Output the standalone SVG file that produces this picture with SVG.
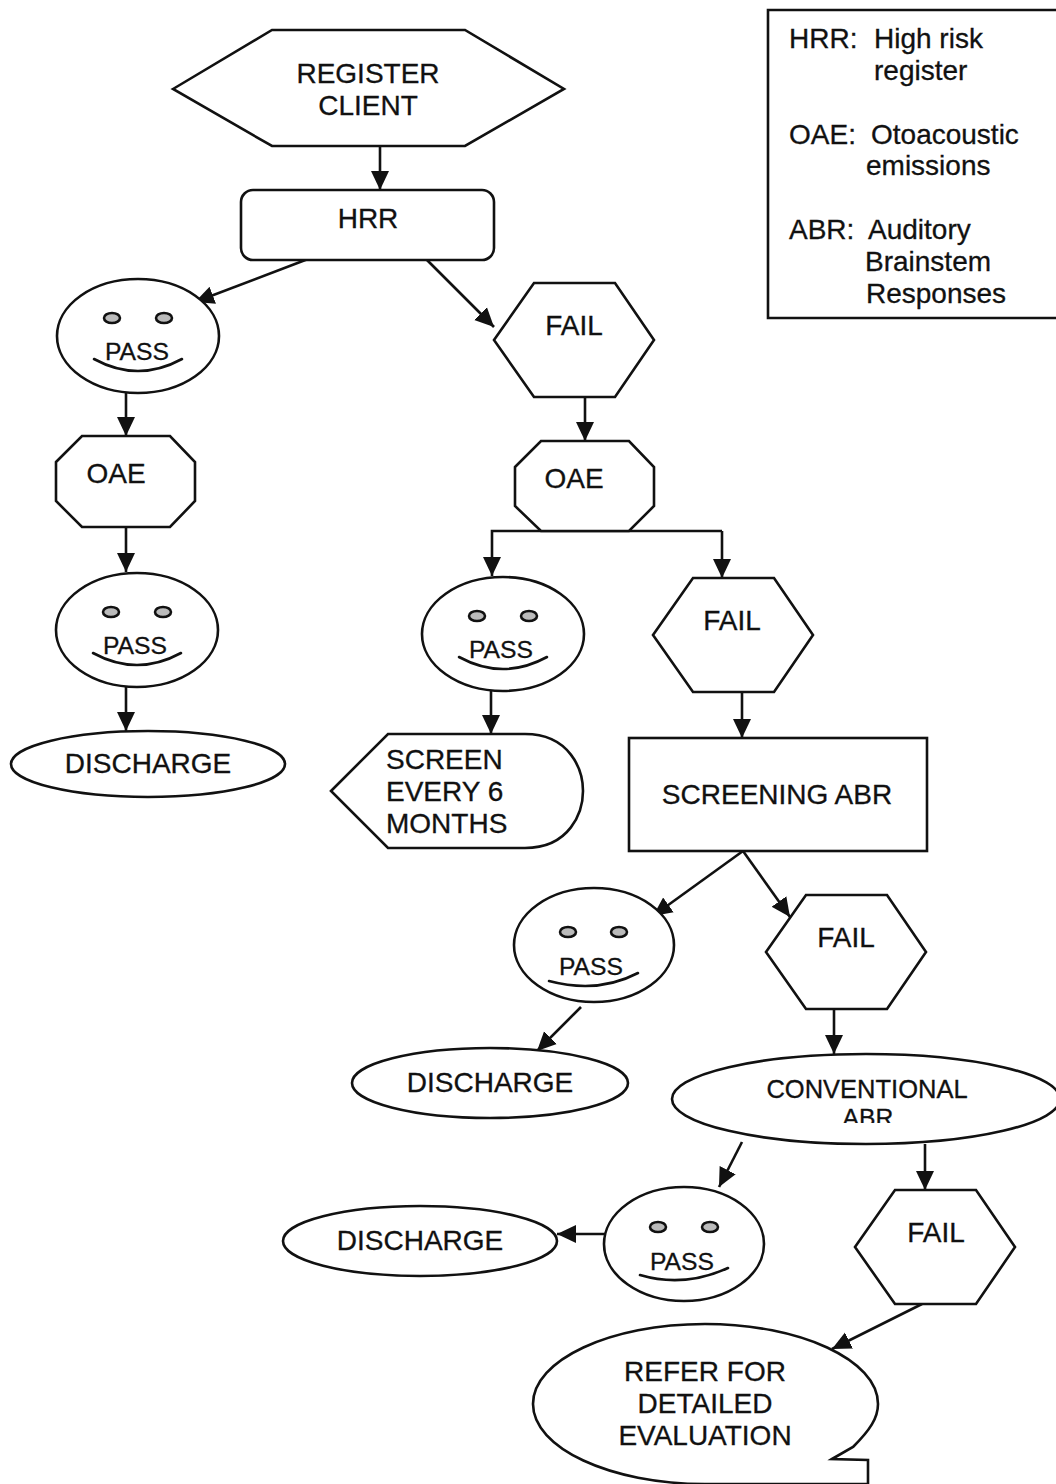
<svg xmlns="http://www.w3.org/2000/svg" width="1056" height="1484" viewBox="0 0 1056 1484">
<style>
.s{fill:#fff;stroke:#111;stroke-width:2.6}
.n{fill:none;stroke:#111;stroke-width:2.6;stroke-linecap:round}
.e{fill:#bbb;stroke:#111;stroke-width:2.6}
.c{fill:none;stroke:#111;stroke-width:2.6}
text{font-family:"Liberation Sans",Arial,sans-serif;font-size:28px;fill:#111;stroke:#111;stroke-width:.3}
.m{text-anchor:middle}
.p{font-size:24.7px;text-anchor:middle}
</style>
<defs>
<marker id="a" markerUnits="userSpaceOnUse" markerWidth="20" markerHeight="20" refX="19" refY="10" orient="auto"><path d="M0 1L19 10L0 19Z" fill="#111"/></marker>
<clipPath id="abr"><rect x="800" y="1100" width="140" height="23"/></clipPath>
<g id="face"><ellipse class="s" cx="0" cy="0" rx="81" ry="57"/><ellipse class="e" cx="-26" cy="-18" rx="8" ry="5"/><ellipse class="e" cx="26" cy="-18" rx="8" ry="5"/><path class="n" d="M-44 23Q0 47 44 23"/></g>
<g id="hex"><path class="s" d="M0 57L40 0H121L160 57L121 114H40Z"/></g>
</defs>
<g id="connectors">
<path class="c" marker-end="url(#a)" d="M380 146V190"/>
<path class="c" marker-end="url(#a)" d="M308 259L195 302"/>
<path class="c" marker-end="url(#a)" d="M427 260L494 327"/>
<path class="c" marker-end="url(#a)" d="M126 392V436"/>
<path class="c" marker-end="url(#a)" d="M126 527V572"/>
<path class="c" marker-end="url(#a)" d="M126 687V731"/>
<path class="c" marker-end="url(#a)" d="M585 397V441"/>
<path class="c" marker-end="url(#a)" d="M722 531H492V576"/>
<path class="c" marker-end="url(#a)" d="M722 531V578"/>
<path class="c" marker-end="url(#a)" d="M491 691V734"/>
<path class="c" marker-end="url(#a)" d="M742 692V738"/>
<path class="c" marker-end="url(#a)" d="M743 851L653 916"/>
<path class="c" marker-end="url(#a)" d="M743 851L790 917"/>
<path class="c" marker-end="url(#a)" d="M581 1007L537 1051"/>
<path class="c" marker-end="url(#a)" d="M834 1009V1054"/>
<path class="c" marker-end="url(#a)" d="M742 1142L719 1187"/>
<path class="c" marker-end="url(#a)" d="M925 1144V1190"/>
<path class="c" marker-end="url(#a)" d="M605 1234H557"/>
<path class="c" marker-end="url(#a)" d="M922 1304L832 1349"/>
</g>
<g id="register"><path class="s" d="M173 89L272 30H465L564 89L465 146H272Z"/><text class="m" x="368" y="83">REGISTER</text><text class="m" x="368" y="115">CLIENT</text></g>
<g id="hrr"><rect class="s" x="241" y="190" width="253" height="70" rx="12"/><text class="m" x="368" y="228">HRR</text></g>
<g id="legend"><path class="s" d="M1058 10H768V318H1058"/>
<text x="789" y="48">HRR:</text><text x="874" y="48">High risk</text><text x="874" y="80">register</text>
<text x="789" y="144">OAE:</text><text x="871" y="144">Otoacoustic</text><text x="866" y="175">emissions</text>
<text x="789" y="239">ABR:</text><text x="868" y="239">Auditory</text><text x="865" y="271">Brainstem</text><text x="866" y="303">Responses</text></g>
<g id="pass1"><use href="#face" x="138" y="336"/><text class="p" x="137" y="360">PASS</text></g>
<g id="fail1"><use href="#hex" x="494" y="283"/><text class="m" x="574" y="335">FAIL</text></g>
<g id="oae1"><path class="s" d="M56 462L82 436H170L195 462V501L170 527H82L56 501Z"/><text class="m" x="116" y="483">OAE</text></g>
<g id="oae2"><path class="s" d="M515 467L541 441H629L654 467V506L629 531H541L515 506Z"/><text class="m" x="574" y="488">OAE</text></g>
<g id="pass2"><use href="#face" x="137" y="630"/><text class="p" x="135" y="654">PASS</text></g>
<g id="discharge1"><ellipse class="s" cx="148" cy="764" rx="137" ry="33"/><text class="m" x="148" y="773">DISCHARGE</text></g>
<g id="pass3"><use href="#face" x="503" y="634"/><text class="p" x="501" y="658">PASS</text></g>
<g id="fail2"><use href="#hex" x="653" y="578"/><text class="m" x="732" y="630">FAIL</text></g>
<g id="screen"><path class="s" d="M331 791L388 734H525C570 734 583 770 583 791C583 812 570 848 525 848H388Z"/><text x="386" y="769">SCREEN</text><text x="386" y="801">EVERY 6</text><text x="386" y="833">MONTHS</text></g>
<g id="screening"><rect class="s" x="629" y="738" width="298" height="113"/><text class="m" x="777" y="804">SCREENING ABR</text></g>
<g id="pass4"><ellipse class="s" cx="594" cy="945" rx="80" ry="57"/><ellipse class="e" cx="568" cy="932" rx="8" ry="5"/><ellipse class="e" cx="619" cy="932" rx="8" ry="5"/><path class="n" d="M549 981Q598 994 638 973"/><text class="p" x="591" y="975">PASS</text></g>
<g id="fail3"><use href="#hex" x="766" y="895"/><text class="m" x="846" y="947">FAIL</text></g>
<g id="discharge2"><ellipse class="s" cx="490" cy="1083" rx="138" ry="35"/><text class="m" x="490" y="1092">DISCHARGE</text></g>
<g id="conventional"><ellipse class="s" cx="866" cy="1099" rx="194" ry="45"/><text class="p" style="font-size:25.5px" x="867" y="1098">CONVENTIONAL</text><text class="p" x="868" y="1126" clip-path="url(#abr)">ABR</text></g>
<g id="pass5"><ellipse class="s" cx="684" cy="1244" rx="80" ry="57"/><ellipse class="e" cx="658" cy="1227" rx="8" ry="5"/><ellipse class="e" cx="710" cy="1227" rx="8" ry="5"/><path class="n" d="M640 1275Q684 1288 728 1268"/><text class="p" x="682" y="1270">PASS</text></g>
<g id="discharge3"><ellipse class="s" cx="420" cy="1241" rx="137" ry="35"/><text class="m" x="420" y="1250">DISCHARGE</text></g>
<g id="fail4"><use href="#hex" x="855" y="1190"/><text class="m" x="936" y="1242">FAIL</text></g>
<g id="refer"><path class="s" d="M832 1459L853 1447C870 1430 878 1418 878 1404C878 1360 800 1324 705 1324C610 1324 533 1360 533 1404C533 1448 610 1484 705 1484H868V1460Z"/><text class="m" x="705" y="1381">REFER FOR</text><text class="m" x="705" y="1413">DETAILED</text><text class="m" x="705" y="1445">EVALUATION</text></g>
</svg>
